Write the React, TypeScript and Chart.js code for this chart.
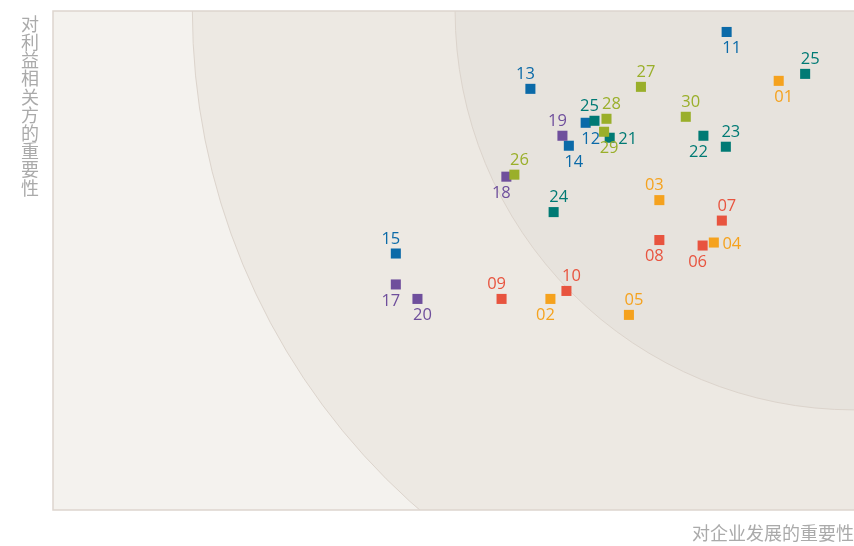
import React, { useEffect, useRef } from "react";
import { Chart, registerables } from "chart.js";

Chart.register(...registerables);

// Issue ids, importance to business (x), importance to stakeholders (y)
const ids = ["01","02","03","04","05","06","07","08","09","10","11","12","13","14","15","17","18","19","20","21","22","23","24","25","25","26","27","28","29","30"];
const xVals = [90.6,62.1,75.7,82.5,71.9,81.1,83.5,75.7,56.0,64.1,84.1,66.5,59.6,64.4,42.8,42.8,56.6,63.6,45.5,69.5,81.2,84.0,62.5,67.6,93.9,57.6,73.4,69.1,68.8,79.0];
const yVals = [86.0,42.3,62.1,53.6,39.1,53.0,58.0,54.1,42.3,43.9,95.8,77.6,84.4,73.0,51.4,45.2,66.8,75.0,42.3,74.6,75.0,72.8,59.7,78.0,87.4,67.2,84.8,78.4,75.8,78.8];
const groups = ["orange","orange","orange","orange","orange","red","red","red","red","red","blue","blue","blue","blue","blue","purple","purple","purple","purple","teal","teal","teal","teal","teal","teal","olive","olive","olive","olive","olive"];
// label placement: tl/tr = above (left/right), bl/br = below, r = right
const labelPlace = ["br","bl","tl","r","tr","bl","tr","bl","tl","tr","br","br","tl","br","tl","bl","bl","tl","br","r","bl","tr","tr","tl","tr","tr","tr","tr","br","tr"];
// zone boundaries on the x axis (where the arcs meet the top edge)
const zoneEdges = [17.4, 50.2];

const xTitle = "对企业发展的重要性";
const yTitle = "对利益相关方的重要性";

const palette: Record<string, string> = {
  orange: "#f5a21e",
  red: "#e8543f",
  blue: "#0b6aa8",
  purple: "#6f4f9c",
  teal: "#007a74",
  olive: "#9aaf2a",
};

const bgPlugin = {
  id: "bgZones",
  beforeDatasetsDraw(chart: any) {
    const { ctx, chartArea: a, scales } = chart;
    const xs = scales.x;
    ctx.save();
    ctx.beginPath();
    ctx.rect(a.left, a.top, a.right - a.left, a.bottom - a.top);
    ctx.clip();
    ctx.fillStyle = "#f4f2ee";
    ctx.fillRect(a.left, a.top, a.right - a.left, a.bottom - a.top);
    const cx = a.right;
    const cy = a.top;
    const fills = ["#ede9e3", "#e7e3dd"];
    zoneEdges.forEach((e, i) => {
      const r = cx - xs.getPixelForValue(e);
      ctx.beginPath();
      ctx.arc(cx, cy, r, 0, Math.PI * 2);
      ctx.fillStyle = fills[i];
      ctx.fill();
      ctx.lineWidth = 1;
      ctx.strokeStyle = "#dcd4cc";
      ctx.stroke();
    });
    ctx.restore();
    // border
    ctx.save();
    ctx.strokeStyle = "#ddd5ce";
    ctx.lineWidth = 1.5;
    ctx.beginPath();
    ctx.moveTo(a.right + 1, a.top);
    ctx.lineTo(a.left, a.top);
    ctx.lineTo(a.left, a.bottom);
    ctx.lineTo(a.right + 1, a.bottom);
    ctx.stroke();
    ctx.restore();
  },
  afterDatasetsDraw(chart: any) {
    const { ctx, chartArea: a, scales } = chart;
    ctx.save();
    ctx.font = '16.5px "Open Sans", "Noto Sans", sans-serif';
    ctx.textAlign = "center";
    ctx.textBaseline = "middle";
    ids.forEach((id, i) => {
      const px = scales.x.getPixelForValue(xVals[i]);
      const py = scales.y.getPixelForValue(yVals[i]);
      const p = labelPlace[i];
      let dx = 0, dy = 0;
      if (p === "tl") { dx = -5; dy = -16; }
      else if (p === "tr") { dx = 5; dy = -16; }
      else if (p === "bl") { dx = -5; dy = 15; }
      else if (p === "br") { dx = 5; dy = 15; }
      else if (p === "r") { dx = 18; dy = 0; }
      ctx.fillStyle = palette[groups[i]];
      ctx.fillText(id, px + dx, py + dy + 1.5);
    });
    ctx.restore();

    // axis titles
    ctx.save();
    ctx.fillStyle = "#aaaaaa";
    ctx.font = '18px "Noto Sans CJK SC", sans-serif';
    ctx.textAlign = "right";
    ctx.textBaseline = "middle";
    ctx.fillText(xTitle, chart.width, a.bottom + 23);
    ctx.textAlign = "center";
    const chars = Array.from(yTitle);
    chars.forEach((c, i) => {
      ctx.fillText(c, 30, a.top + 13 + i * 18.2);
    });
    ctx.restore();
  },
};

export default function App() {
  const ref = useRef<HTMLCanvasElement | null>(null);
  useEffect(() => {
    if (!ref.current) return;
    const pts = ids.map((_, i) => ({ x: xVals[i], y: yVals[i] }));
    const chart = new Chart(ref.current, {
      type: "scatter",
      data: {
        datasets: [
          {
            data: pts,
            pointStyle: "rect",
            pointRadius: 7.1,
            pointHoverRadius: 7.1,
            pointBorderWidth: 0,
            backgroundColor: groups.map((g) => palette[g]),
            borderColor: groups.map((g) => palette[g]),
          },
        ],
      },
      options: {
        animation: false,
        responsive: false,
        layout: { autoPadding: false, padding: { left: 53, top: 11, right: 0, bottom: 36 } },
        scales: {
          x: { type: "linear", min: 0, max: 100, display: false },
          y: { type: "linear", min: 0, max: 100, display: false },
        },
        plugins: { legend: { display: false }, tooltip: { enabled: false } },
      },
      plugins: [bgPlugin],
    });
    return () => chart.destroy();
  }, []);
  return (
    <div style={{ position: "fixed", left: 0, top: 0, width: 854, height: 546, background: "#fff" }}>
      <canvas ref={ref} width={854} height={546} style={{ width: 854, height: 546, display: "block" }} />
    </div>
  );
}
